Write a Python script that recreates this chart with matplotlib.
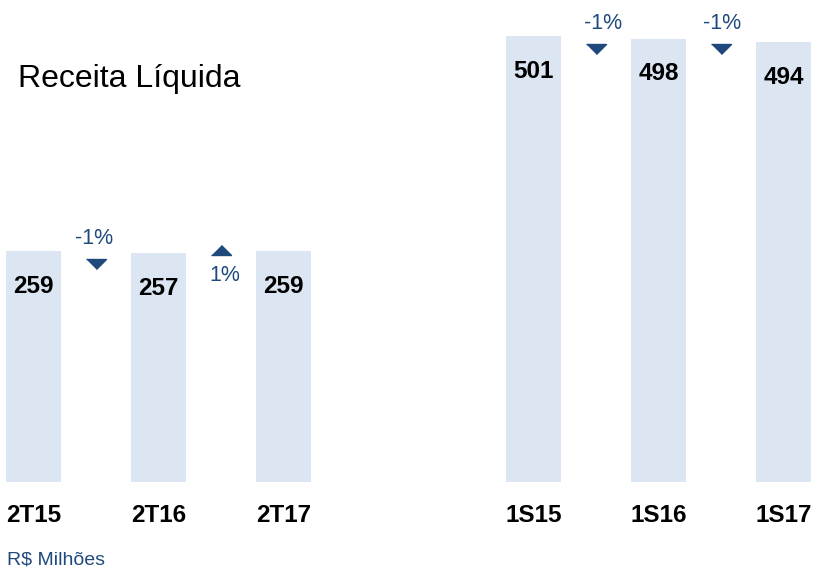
import matplotlib
matplotlib.use("Agg")
import matplotlib.pyplot as plt
from matplotlib.transforms import offset_copy

plt.rcParams['font.family'] = ['Liberation Sans', 'DejaVu Sans']

# ---- data ----
categories = ["2T15", "2T16", "2T17", "1S15", "1S16", "1S17"]
values = [259, 257, 259, 501, 498, 494]
group_index = [0, 0, 0, 1, 1, 1]
changes = ["-1%", "1%", "-1%", "-1%"]   # between consecutive bars within groups
change_dir = [-1, 1, -1, -1]
title = "Receita Líquida"
unit_note = "R$ Milhões"

BAR_COLOR = "#DCE6F2"
DARK_BLUE = "#1F497D"
PX = 0.72  # points per pixel at 100 dpi
label_dx = [-1.5, 4, 6.5, 1]  # small horizontal nudges of change labels (px)

fig = plt.figure(figsize=(8.17, 5.69), dpi=100)
ax = fig.add_axes([0, 0, 1, 1])
ax.set_axis_off()

# positions: each group of 3, one empty slot between groups
xs = [i + g for i, g in enumerate(group_index)]

ax.bar(xs, values, width=0.44, color=BAR_COLOR, edgecolor='none')
ax.set_xlim(-0.268, 6.264)
ax.set_ylim(-98.2, 541.8)

for x, v, c in zip(xs, values, categories):
    ax.annotate(str(v), xy=(x, v), xytext=(0, -35 * PX), textcoords='offset points',
                ha='center', va='center', fontsize=17.5, fontweight='bold', color='black')
    ax.annotate(c, xy=(x, 0), xytext=(0, -33.5 * PX), textcoords='offset points',
                ha='center', va='center', fontsize=17.5, fontweight='bold', color='black')

group_max = {g: max(v for v, gg in zip(values, group_index) if gg == g) for g in set(group_index)}

pairs = [(i, i + 1) for i in range(len(values) - 1) if group_index[i] == group_index[i + 1]]
down_marker = [(-1, 0.5), (1, 0.5), (0, -0.5)]
up_marker = [(-1, -0.5), (1, -0.5), (0, 0.5)]
for (i, j), lab, d, dx in zip(pairs, changes, change_dir, label_dx):
    xm = (xs[i] + xs[j]) / 2
    top = group_max[group_index[i]]
    if d < 0:
        tri_dy, txt_dy, mk = -12.5, 13, down_marker
    else:
        tri_dy, txt_dy, mk = 1, -24.5, up_marker
    tr = offset_copy(ax.transData, fig=fig, x=0, y=tri_dy * PX, units='points')
    ax.plot([xm], [top], marker=mk, markersize=14.4, color=DARK_BLUE,
            linestyle='none', transform=tr)
    ax.annotate(lab, xy=(xm, top), xytext=(dx * PX, txt_dy * PX), textcoords='offset points',
                ha='center', va='center', fontsize=15.5, color=DARK_BLUE)

fig.text(0.022, 1 - 86.7 / 569, title, fontsize=23, color='black', ha='left', va='baseline')
fig.text(0.008, 1 - 564 / 569, unit_note, fontsize=14, color=DARK_BLUE, ha='left', va='baseline')

fig.savefig("out.png", dpi=100)
